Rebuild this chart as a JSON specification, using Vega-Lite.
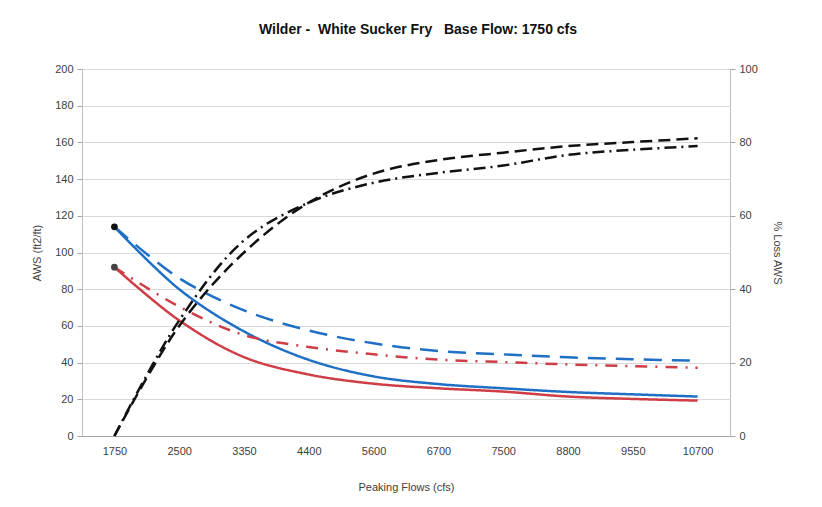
{
  "$schema": "https://vega.github.io/schema/vega-lite/v6.json",
  "width": 648,
  "height": 367,
  "autosize": {"type": "none"},
  "padding": {"left": 82, "top": 69, "right": 92, "bottom": 71},
  "background": "white",
  "config": {
    "font": "Liberation Sans",
    "view": {"stroke": "#bfbfbf", "strokeWidth": 1},
    "axis": {"labelFont": "Liberation Sans", "titleFont": "Liberation Sans", "labelColor": "#404040", "titleColor": "#404040", "titleFontWeight": "normal", "domainColor": "#a6a6a6", "tickColor": "#a6a6a6", "labelOverlap": false}
  },
  "title": {"text": "Wilder -\u00a0 White Sucker Fry \u00a0 Base Flow: 1750 cfs", "fontSize": 14, "fontWeight": "bold", "color": "#111111", "offset": 26, "anchor": "middle", "dx": 12},
  "data": {"values": [
    {"flow": "1750", "series": "blue_solid", "value": 114},
    {"flow": "2500", "series": "blue_solid", "value": 80},
    {"flow": "3350", "series": "blue_solid", "value": 57},
    {"flow": "4400", "series": "blue_solid", "value": 41.5},
    {"flow": "5600", "series": "blue_solid", "value": 32.5},
    {"flow": "6700", "series": "blue_solid", "value": 28.3},
    {"flow": "7500", "series": "blue_solid", "value": 26},
    {"flow": "8800", "series": "blue_solid", "value": 24},
    {"flow": "9550", "series": "blue_solid", "value": 22.7},
    {"flow": "10700", "series": "blue_solid", "value": 21.5},
    {"flow": "1750", "series": "red_solid", "value": 92},
    {"flow": "2500", "series": "red_solid", "value": 63},
    {"flow": "3350", "series": "red_solid", "value": 43},
    {"flow": "4400", "series": "red_solid", "value": 33.5},
    {"flow": "5600", "series": "red_solid", "value": 28.5},
    {"flow": "6700", "series": "red_solid", "value": 26},
    {"flow": "7500", "series": "red_solid", "value": 24.2},
    {"flow": "8800", "series": "red_solid", "value": 21.5},
    {"flow": "9550", "series": "red_solid", "value": 20.2},
    {"flow": "10700", "series": "red_solid", "value": 19.3},
    {"flow": "1750", "series": "blue_dash", "value": 114},
    {"flow": "2500", "series": "blue_dash", "value": 86},
    {"flow": "3350", "series": "blue_dash", "value": 68.5},
    {"flow": "4400", "series": "blue_dash", "value": 57.5},
    {"flow": "5600", "series": "blue_dash", "value": 50.5},
    {"flow": "6700", "series": "blue_dash", "value": 46.3},
    {"flow": "7500", "series": "blue_dash", "value": 44.5},
    {"flow": "8800", "series": "blue_dash", "value": 42.9},
    {"flow": "9550", "series": "blue_dash", "value": 41.8},
    {"flow": "10700", "series": "blue_dash", "value": 41},
    {"flow": "1750", "series": "red_dashdot", "value": 92},
    {"flow": "2500", "series": "red_dashdot", "value": 70.5},
    {"flow": "3350", "series": "red_dashdot", "value": 55},
    {"flow": "4400", "series": "red_dashdot", "value": 48.5},
    {"flow": "5600", "series": "red_dashdot", "value": 44.5},
    {"flow": "6700", "series": "red_dashdot", "value": 41.6},
    {"flow": "7500", "series": "red_dashdot", "value": 40.3},
    {"flow": "8800", "series": "red_dashdot", "value": 39},
    {"flow": "9550", "series": "red_dashdot", "value": 38.1},
    {"flow": "10700", "series": "red_dashdot", "value": 37.2},
    {"flow": "1750", "series": "loss_dash", "value": 0},
    {"flow": "2500", "series": "loss_dash", "value": 30},
    {"flow": "3350", "series": "loss_dash", "value": 50},
    {"flow": "4400", "series": "loss_dash", "value": 63.6},
    {"flow": "5600", "series": "loss_dash", "value": 71.5},
    {"flow": "6700", "series": "loss_dash", "value": 75.2},
    {"flow": "7500", "series": "loss_dash", "value": 77.2},
    {"flow": "8800", "series": "loss_dash", "value": 79},
    {"flow": "9550", "series": "loss_dash", "value": 80.1},
    {"flow": "10700", "series": "loss_dash", "value": 81.1},
    {"flow": "1750", "series": "loss_dashdot", "value": 0},
    {"flow": "2500", "series": "loss_dashdot", "value": 31.5},
    {"flow": "3350", "series": "loss_dashdot", "value": 53.3},
    {"flow": "4400", "series": "loss_dashdot", "value": 63.6},
    {"flow": "5600", "series": "loss_dashdot", "value": 69},
    {"flow": "6700", "series": "loss_dashdot", "value": 71.7},
    {"flow": "7500", "series": "loss_dashdot", "value": 73.7},
    {"flow": "8800", "series": "loss_dashdot", "value": 76.6},
    {"flow": "9550", "series": "loss_dashdot", "value": 78},
    {"flow": "10700", "series": "loss_dashdot", "value": 79}
  ]},
  "encoding": {
    "x": {"field": "flow", "type": "ordinal", "sort": ["1750", "2500", "3350", "4400", "5600", "6700", "7500", "8800", "9550", "10700"], "scale": {"type": "point", "padding": 0.5},
      "axis": {"title": "Peaking Flows (cfs)", "labelAngle": 0, "labelFontSize": 11, "titleFontSize": 11, "ticks": false, "labelPadding": 9, "titlePadding": 25, "domainColor": "#a6a6a6"}}
  },
  "layer": [
    {
      "transform": [{"filter": "indexof(['blue_solid','red_solid','blue_dash','red_dashdot'], datum.series) >= 0"}],
      "encoding": {
        "y": {"field": "value", "type": "quantitative", "scale": {"domain": [0, 200]},
          "axis": {"title": "AWS (ft2/ft)", "orient": "left", "values": [0, 20, 40, 60, 80, 100, 120, 140, 160, 180, 200], "labelFontSize": 11, "titleFontSize": 11, "tickSize": 5, "labelPadding": 4, "titlePadding": 12, "grid": true, "gridColor": "#d9d9d9", "domain": false}}
      },
      "layer": [
        {
          "mark": {"type": "line", "interpolate": "catmull-rom", "strokeWidth": 2.5},
          "encoding": {
            "color": {"field": "series", "type": "nominal", "legend": null,
              "scale": {"domain": ["blue_solid", "red_solid", "blue_dash", "red_dashdot"], "range": ["#1f6fc5", "#cf3d46", "#1f6fc5", "#cf3d46"]}},
            "strokeDash": {"field": "series", "type": "nominal", "legend": null,
              "scale": {"domain": ["blue_solid", "red_solid", "blue_dash", "red_dashdot"], "range": [[1, 0], [1, 0], [18, 10], [12, 8, 2, 8]]}}
          }
        },
        {
          "transform": [{"filter": "datum.flow == '1750' && (datum.series == 'blue_solid' || datum.series == 'red_solid')"}],
          "mark": {"type": "point", "filled": true, "size": 45, "opacity": 1},
          "encoding": {
            "fill": {"field": "series", "type": "nominal", "legend": null,
              "scale": {"domain": ["blue_solid", "red_solid"], "range": ["#111111", "#444444"]}}
          }
        }
      ],
      "resolve": {"scale": {"color": "independent"}}
    },
    {
      "transform": [{"filter": "datum.series == 'loss_dash' || datum.series == 'loss_dashdot'"}],
      "mark": {"type": "line", "interpolate": "catmull-rom", "strokeWidth": 2.5, "color": "#111111"},
      "encoding": {
        "y": {"field": "value", "type": "quantitative", "scale": {"domain": [0, 100]},
          "axis": {"title": "% Loss AWS", "orient": "right", "values": [0, 20, 40, 60, 80, 100], "labelFontSize": 11, "titleFontSize": 11, "tickSize": 5, "labelPadding": 4, "titlePadding": 14, "grid": false, "domain": false}},
        "strokeDash": {"field": "series", "type": "nominal", "legend": null,
          "scale": {"domain": ["loss_dash", "loss_dashdot"], "range": [[12, 6], [12, 5, 2, 5]]}}
      }
    }
  ],
  "resolve": {"scale": {"y": "independent", "strokeDash": "independent", "color": "independent"}}
}
